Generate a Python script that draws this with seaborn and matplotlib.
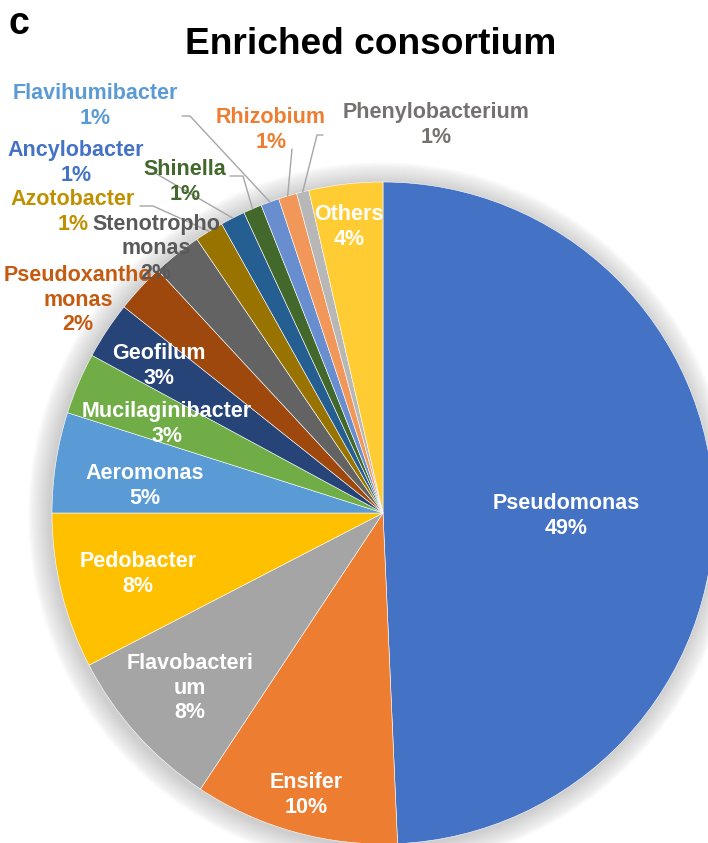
import numpy as np
import matplotlib.pyplot as plt
import seaborn as sns
from matplotlib.patches import Circle

sns.set_theme(style="white")
plt.rcParams['font.family'] = ['Liberation Sans', 'DejaVu Sans']

#Genera, clockwise from 12 o'clock
genera = ["Pseudomonas", "Ensifer", "Flavobacteri\num", "Pedobacter", "Aeromonas",
          "Mucilaginibacter", "Geofilum", "Pseudoxantho\nmonas", "Stenotropho\nmonas",
          "Azotobacter", "Ancylobacter", "Shinella", "Flavihumibacter", "Rhizobium",
          "Phenylobacterium", "Others"]
share = [49.3, 10.0, 8.1, 7.6, 4.9, 3.0, 2.8, 2.4, 2.4, 1.4, 1.2, 0.9, 0.9, 0.9, 0.6, 3.6]

slice_colors = ["#4472C4", "#ED7D31", "#A5A5A5", "#FFC000", "#5B9BD5", "#70AD47",
                "#264478", "#9E480E", "#636363", "#997300", "#255E91", "#43682B",
                "#698ED0", "#F1975A", "#B7B7B7", "#FFCD33"]
text_colors = ["white", "white", "white", "white", "white", "white", "white",
               "#C55A11", "#595959", "#BF9000", "#4472C4", "#43682B",
               "#5B9BD5", "#ED7D31", "#767171", "white"]

#Label centres in pixels from top-left of the image
label_pos = [(566, 516), (306, 795), (190, 688), (138, 574), (145, 486),
             (167, 424), (159, 366), (78, 300), (156, 249), (73, 212),
             (76, 163), (185, 182), (95, 106), (271, 130), (436, 125), (349, 227)]

#Leader line start points (pixels), end point is on the slice rim
leaders = {9: [(140, 206), (153, 206)],
           10: [(150, 173), (155, 173)],
           11: [(230, 176), (243, 176)],
           12: [(182, 116), (190, 116)],
           13: [(292, 149)],
           14: [(323, 135), (317, 135)]}

W, H = 708, 843
def px(x, y):
    return x, H - y

fig = plt.figure(figsize=(W / 100, H / 100), dpi=100)
ax = fig.add_axes([0, 0, 1, 1])

cx, cy = px(383, 513)
R = 331

#Soft glow round the pie
for k in range(22):
    ax.add_patch(Circle((cx - 2, cy - 2), R + 1 + k * 1.0, fc="#8a8a8a",
                        alpha=0.02, lw=0, zorder=0))

wedges, _ = ax.pie(share, colors=slice_colors, startangle=90, counterclock=False,
                   center=(cx, cy), radius=R,
                   wedgeprops=dict(edgecolor="white", linewidth=0.4))

for i, w in enumerate(wedges):
    if i in leaders:
        mid = np.deg2rad((w.theta1 + w.theta2) / 2)
        pts = [px(*p) for p in leaders[i]]
        pts.append((cx + R * np.cos(mid), cy + R * np.sin(mid)))
        xs, ys = zip(*pts)
        ax.plot(xs, ys, color="#a6a6a6", lw=1.0, zorder=3)

for i, name in enumerate(genera):
    x, y = px(*label_pos[i])
    ax.text(x, y, f"{name}\n{share[i]:.0f}%", ha="center", va="center",
            fontsize=15.5, fontweight="bold", color=text_colors[i],
            linespacing=1.2, zorder=5)

ax.text(*px(371, 45), "Enriched consortium", ha="center", va="center",
        fontsize=26.7, fontweight="bold", color="black")
ax.text(*px(8, 24), "c", ha="left", va="center",
        fontsize=27, fontweight="bold", color="black")

ax.set_xlim(0, W)
ax.set_ylim(0, H)
ax.set_aspect("equal")
ax.axis("off")

fig.savefig("out.png", dpi=100)
plt.close()
